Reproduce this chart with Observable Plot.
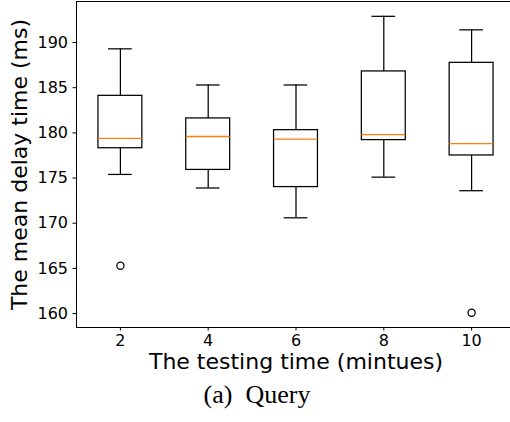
<!DOCTYPE html>
<html>
<head>
<meta charset="utf-8">
<script src="https://cdn.jsdelivr.net/npm/d3@7"></script>
<script src="https://cdn.jsdelivr.net/npm/@observablehq/plot@0.6"></script>
<style>
  html, body { margin: 0; padding: 0; background: white; overflow: hidden; }
  #caption { width: 514px; text-align: center; font-family: "Liberation Serif", "Times New Roman", serif; font-size: 26px; line-height: 29px; color: #000; }
</style>
</head>
<body>
<div id="chart"></div>
<div id="caption">(a)&nbsp; Query</div>
<script>
// Testing time (minutes)
const minutes = [2, 4, 6, 8, 10];
// Box-plot statistics (ms)
const whiskerLow  = [175.4, 173.9, 170.6, 175.1, 173.6];
const q1          = [178.3, 175.9, 174.0, 179.2, 177.5];
const median      = [179.4, 179.6, 179.3, 179.8, 178.8];
const q3          = [184.1, 181.6, 180.3, 186.8, 187.75];
const whiskerHigh = [189.3, 185.3, 185.3, 192.9, 191.4];
// Outliers
const outlierMinutes = [2, 10];
const outlierValues  = [165.3, 160.1];
const yTicks = [160, 165, 170, 175, 180, 185, 190];
const xTicks = [2, 4, 6, 8, 10];

const boxes = minutes.map((m, i) => ({
  m, lo: whiskerLow[i], q1: q1[i], med: median[i], q3: q3[i], hi: whiskerHigh[i]
}));
const outliers = outlierMinutes.map((m, i) => ({ m, v: outlierValues[i] }));

const font = "DejaVu Sans, sans-serif";
const lw = 1.25;

const chart = Plot.plot({
  width: 510,
  height: 380,
  marginLeft: 76,
  marginRight: -5,
  marginTop: 1,
  marginBottom: 53,
  style: { fontFamily: font, color: "black", background: "white" },
  x: { domain: [1, 11] },
  y: { domain: [158.46, 194.54] },
  marks: [
    Plot.frame({ stroke: "black", strokeWidth: 1 }),
    Plot.axisY({ ticks: yTicks, tickSize: 3.5, tickPadding: 5, fontSize: 16, label: null, tickFormat: d => String(d) }),
    Plot.axisX({ ticks: xTicks, tickSize: 3.5, tickPadding: 4, fontSize: 16, label: null, tickFormat: d => String(d) }),
    // whiskers
    Plot.ruleX(boxes, { x: "m", y1: "q3", y2: "hi", stroke: "black", strokeWidth: lw }),
    Plot.ruleX(boxes, { x: "m", y1: "lo", y2: "q1", stroke: "black", strokeWidth: lw }),
    // caps
    Plot.ruleY(boxes, { y: "hi", x1: d => d.m - 0.27, x2: d => d.m + 0.27, stroke: "black", strokeWidth: lw }),
    Plot.ruleY(boxes, { y: "lo", x1: d => d.m - 0.27, x2: d => d.m + 0.27, stroke: "black", strokeWidth: lw }),
    // boxes
    Plot.rect(boxes, { x1: d => d.m - 0.5, x2: d => d.m + 0.5, y1: "q1", y2: "q3", fill: "none", stroke: "black", strokeWidth: lw }),
    // medians
    Plot.ruleY(boxes, { y: "med", x1: d => d.m - 0.5, x2: d => d.m + 0.5, stroke: "#ff7f0e", strokeWidth: 1.3 }),
    // outliers
    Plot.dot(outliers, { x: "m", y: "v", r: 3.6, stroke: "black", fill: "none", strokeWidth: lw }),
    // axis titles
    Plot.text(["The mean delay time (ms)"], { frameAnchor: "left", textAnchor: "middle", rotate: -90, dx: -57, fontSize: 22, fill: "black" }),
    Plot.text(["The testing time (mintues)"], { frameAnchor: "bottom", textAnchor: "middle", dy: 41, fontSize: 22, fill: "black" })
  ]
});
document.getElementById("chart").appendChild(chart);
</script>
</body>
</html>
